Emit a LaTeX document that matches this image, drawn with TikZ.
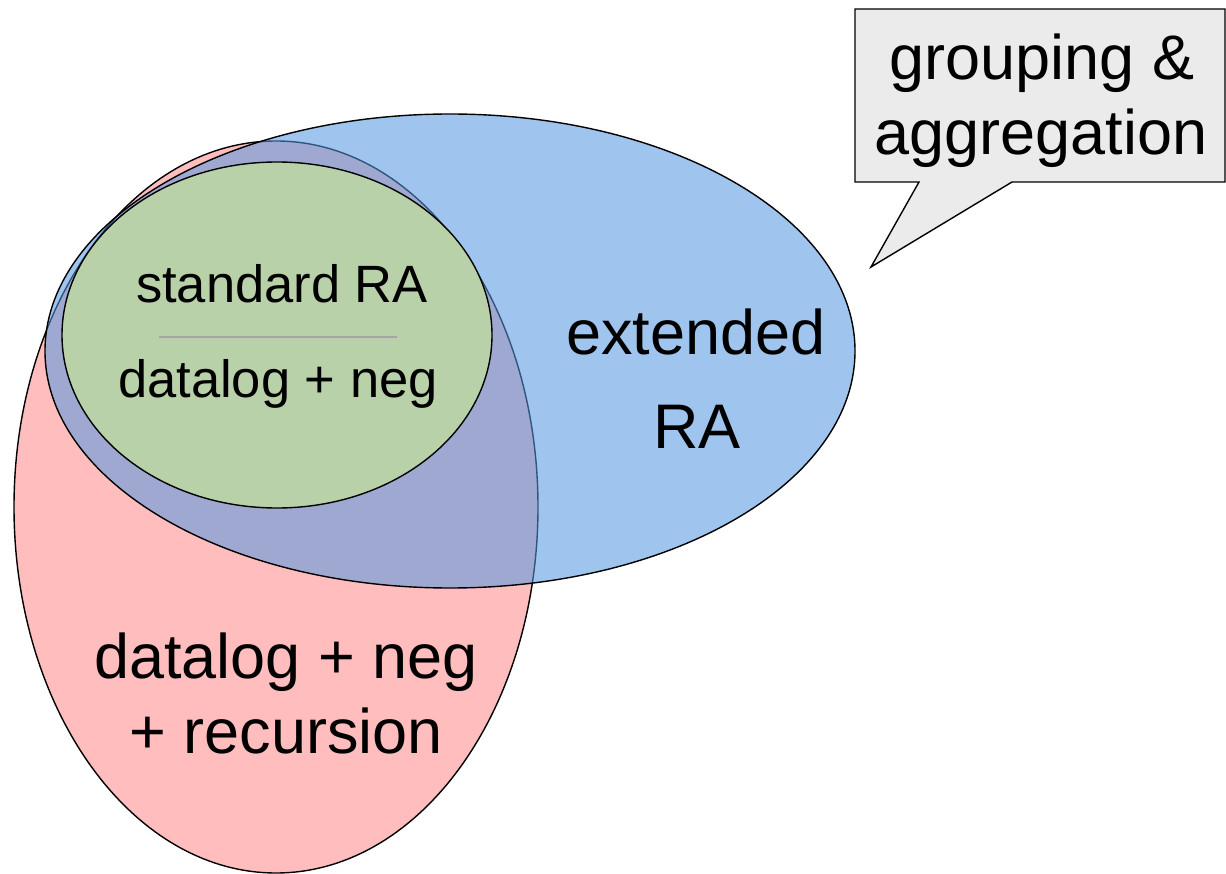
\documentclass[tikz,border=0pt]{standalone}
\usepackage{fontspec}
\setmainfont{Liberation Sans}
\usetikzlibrary{shapes.geometric}
\definecolor{redfill}{RGB}{255,189,189}
\definecolor{bluefill}{RGB}{84,152,225}
\definecolor{greenfill}{RGB}{185,209,169}
\definecolor{calloutfill}{RGB}{235,235,235}
\definecolor{sepgray}{RGB}{165,165,165}
\tikzset{
  region/.style={ellipse, draw=black, line width=1.4pt, inner sep=0pt, outer sep=0pt},
  bigtext/.style={anchor=base, inner sep=0pt, font=\fontsize{63}{75}\selectfont},
  smalltext/.style={anchor=base, inner sep=0pt, font=\fontsize{52.5}{63}\selectfont},
}
\begin{document}
\begin{tikzpicture}[x=1pt,y=-1pt]
\useasboundingbox (0,0) rectangle (1226,874);
% red ellipse
\node[region, fill=redfill, minimum width=524pt, minimum height=732pt] (red) at (276,507) {};
% blue ellipse (semi-transparent)
\node[region, fill=bluefill, fill opacity=0.56, minimum width=810pt, minimum height=474pt] (blue) at (450,351) {};
% green ellipse
\node[region, fill=greenfill, minimum width=430pt, minimum height=346pt] (green) at (277,335) {};
% separator
\coordinate (sepL) at (159,337);
\coordinate (sepR) at (397,337);
\draw[sepgray, line width=1.5pt] (sepL) -- (sepR);
% texts
\node[smalltext] (std) at (282,303) {standard RA};
\node[smalltext] (dln) at (278,397) {datalog + neg};
\node[bigtext] (dlr1) at (286,678) {datalog + neg};
\node[bigtext] (dlr2) at (286,753) {+ recursion};
\node[bigtext] (ext1) at (696,355) {extended};
\node[bigtext] (ext2) at (697,448) {RA};
% callout
\coordinate (cTL) at (855,9);
\coordinate (cTR) at (1225,9);
\coordinate (cBR) at (1225,182);
\coordinate (cP2) at (1012,182);
\coordinate (tip) at (871,267);
\coordinate (cP1) at (919,182);
\coordinate (cBL) at (855,182);
\draw[fill=calloutfill, line width=1.4pt, line join=miter] (cTL) -- (cTR) -- (cBR) -- (cP2) -- (tip) -- (cP1) -- (cBL) -- cycle;
\node[bigtext] (grp1) at (1042,80) {grouping \&};
\node[bigtext] (grp2) at (1041,155) {aggregation};
\end{tikzpicture}
\end{document}
